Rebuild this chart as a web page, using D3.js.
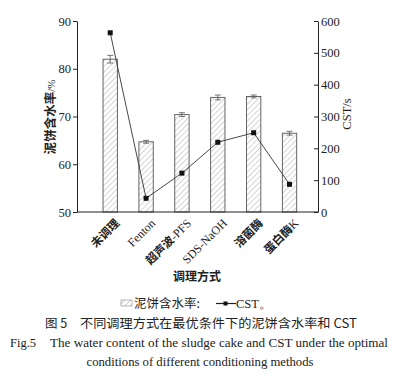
<!DOCTYPE html>
<html><head><meta charset="utf-8">
<script src="https://cdn.jsdelivr.net/npm/d3@7"></script>
<style>
html,body{margin:0;padding:0;background:#fff;}
svg{display:block;}
</style></head>
<body>
<svg id="chart" width="405" height="391"></svg>
<script>
const categories = ["未调理", "Fenton", "超声波-PFS", "SDS-NaOH", "溶菌酶", "蛋白酶K"];
const waterContent = [82.0, 64.7, 70.4, 74.0, 74.2, 66.5];
const waterErr = [0.8, 0.3, 0.4, 0.5, 0.3, 0.4];
const cst = [563, 43, 122, 219, 249, 87];
const leftTicks = [50, 60, 70, 80, 90];
const rightTicks = [0, 100, 200, 300, 400, 500, 600];

const svg = d3.select("#chart");
const L = 77, R = 318, T = 21, B = 212;
const serif = "'Liberation Serif','Times New Roman',serif";
const cjk = "'Noto Sans CJK SC','Noto Sans',sans-serif";

const x = d3.scaleBand().domain(categories).range([L, R]).paddingInner(0.6).paddingOuter(0.66).align(0.55);
const yL = d3.scaleLinear().domain([50, 90]).range([B, T]);
const yR = d3.scaleLinear().domain([0, 600]).range([B, T]);

const defs = svg.append("defs");
const pat = defs.append("pattern").attr("id", "hatch").attr("patternUnits", "userSpaceOnUse")
  .attr("width", 4).attr("height", 4).attr("patternTransform", "rotate(45)");
pat.append("rect").attr("width", 4).attr("height", 4).attr("fill", "#fff");
pat.append("line").attr("x1", 0).attr("y1", 0).attr("x2", 0).attr("y2", 4)
  .attr("stroke", "#b8b8b8").attr("stroke-width", 1.2);

// bars
svg.append("g").selectAll("rect").data(categories).join("rect")
  .attr("x", d => x(d)).attr("width", x.bandwidth())
  .attr("y", (d, i) => yL(waterContent[i])).attr("height", (d, i) => B - yL(waterContent[i]))
  .attr("fill", "url(#hatch)").attr("stroke", "#555").attr("stroke-width", 0.9);

// error bars
const eb = svg.append("g").attr("stroke", "#555").attr("stroke-width", 0.8);
categories.forEach((c, i) => {
  const cx = x(c) + x.bandwidth() / 2;
  const y1 = yL(waterContent[i] + waterErr[i]), y0 = yL(waterContent[i] - waterErr[i]);
  eb.append("line").attr("x1", cx).attr("x2", cx).attr("y1", y1).attr("y2", y0);
  eb.append("line").attr("x1", cx - 3).attr("x2", cx + 3).attr("y1", y1).attr("y2", y1);
  eb.append("line").attr("x1", cx - 3).attr("x2", cx + 3).attr("y1", y0).attr("y2", y0);
});

// CST line
const line = d3.line().x((d, i) => x(categories[i]) + x.bandwidth() / 2).y(d => yR(d));
svg.append("path").datum(cst).attr("d", line).attr("fill", "none").attr("stroke", "#333").attr("stroke-width", 0.9);
svg.append("g").selectAll("rect").data(cst).join("rect")
  .attr("x", (d, i) => x(categories[i]) + x.bandwidth() / 2 - 2.5)
  .attr("y", d => yR(d) - 2.5).attr("width", 5).attr("height", 5).attr("fill", "#111");

// axes
const gl = svg.append("g").attr("transform", `translate(${L},0)`)
  .call(d3.axisLeft(yL).tickValues(leftTicks).tickSize(4).tickPadding(2).tickSizeOuter(0));
const gr = svg.append("g").attr("transform", `translate(${R},0)`)
  .call(d3.axisRight(yR).tickValues(rightTicks).tickSizeInner(-4).tickPadding(3).tickSizeOuter(0));
[gl, gr].forEach(g => {
  g.selectAll("text").attr("font-family", serif).attr("font-size", 12.5).attr("fill", "#222");
  g.selectAll("line,path").attr("stroke", "#222").attr("stroke-width", 1);
});
svg.append("line").attr("x1", L).attr("x2", R).attr("y1", B).attr("y2", B).attr("stroke", "#222").attr("stroke-width", 1.2);

// x labels (CJK parts bold sans, latin parts serif)
const isCJK = ch => /[\u4e00-\u9fff]/.test(ch);
const xl = svg.append("g").selectAll("text").data(categories).join("text")
  .attr("transform", d => `translate(${x(d) + x.bandwidth() / 2 + 6},${B + 8}) rotate(-45)`)
  .attr("text-anchor", "end").attr("dy", "0.35em").attr("fill", "#222");
xl.each(function(d) {
  const t = d3.select(this);
  const runs = [];
  for (const ch of d) {
    const c = isCJK(ch);
    if (runs.length && runs[runs.length - 1].c === c) runs[runs.length - 1].s += ch;
    else runs.push({c, s: ch});
  }
  runs.forEach(r => t.append("tspan")
    .attr("font-family", r.c ? cjk : serif)
    .attr("font-weight", r.c ? "bold" : "normal")
    .attr("font-size", r.c ? 11.5 : 12)
    .text(r.s));
});

svg.append("text").attr("x", 197).attr("y", 281).attr("text-anchor", "middle")
  .attr("font-family", cjk).attr("font-weight", "bold").attr("font-size", 12).attr("fill", "#222").text("调理方式");

// y labels
const yl = svg.append("text").attr("transform", `translate(55,117) rotate(-90)`).attr("text-anchor", "middle")
  .attr("font-family", cjk).attr("font-weight", "bold").attr("font-size", 12.5).attr("fill", "#222");
yl.append("tspan").text("泥饼含水率");
yl.append("tspan").attr("font-family", serif).attr("font-weight", "normal").attr("font-size", 11).text("/%");

svg.append("text").attr("transform", `translate(351,114) rotate(-90)`).attr("text-anchor", "middle")
  .attr("font-family", serif).attr("font-size", 12.5).attr("fill", "#222").text("CST/s");

// legend
svg.append("rect").attr("x", 121).attr("y", 300).attr("width", 11).attr("height", 6)
  .attr("fill", "url(#hatch)").attr("stroke", "#888").attr("stroke-width", 0.6);
svg.append("text").attr("x", 134).attr("y", 308).attr("font-family", cjk).attr("font-size", 12.5).attr("fill", "#222").text("泥饼含水率:");
svg.append("line").attr("x1", 216).attr("x2", 236).attr("y1", 303.5).attr("y2", 303.5).attr("stroke", "#222").attr("stroke-width", 1.2);
svg.append("rect").attr("x", 223.5).attr("y", 301.5).attr("width", 4).attr("height", 4).attr("fill", "#111");
svg.append("text").attr("x", 236).attr("y", 308).attr("font-family", serif).attr("font-size", 12.5).attr("fill", "#222").text("CST。");

// caption
svg.append("text").attr("x", 45).attr("y", 328).attr("font-family", cjk).attr("font-size", 12.5).attr("fill", "#222")
  .text("图 5");
svg.append("text").attr("x", 80).attr("y", 328).attr("font-family", cjk).attr("font-size", 12.5).attr("fill", "#222")
  .attr("textLength", 277).attr("lengthAdjust", "spacingAndGlyphs")
  .text("不同调理方式在最优条件下的泥饼含水率和 CST");
svg.append("text").attr("x", 10).attr("y", 347).attr("font-family", serif).attr("font-size", 12.5).attr("fill", "#222")
  .text("Fig.5");
svg.append("text").attr("x", 50).attr("y", 347).attr("font-family", serif).attr("font-size", 12.5).attr("fill", "#222")
  .attr("textLength", 338).attr("lengthAdjust", "spacingAndGlyphs")
  .text("The water content of the sludge cake and CST under the optimal");
svg.append("text").attr("x", 200).attr("y", 366).attr("text-anchor", "middle").attr("font-family", serif).attr("font-size", 12.5).attr("fill", "#222")
  .attr("textLength", 227).attr("lengthAdjust", "spacingAndGlyphs")
  .text("conditions of different conditioning methods");
</script>
</body></html>
